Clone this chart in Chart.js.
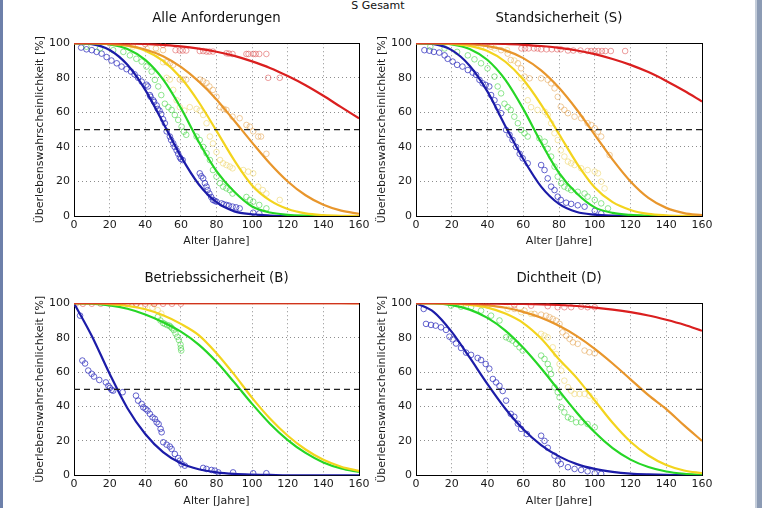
<!DOCTYPE html>
<html>
<head>
<meta charset="utf-8">
<script src="https://cdn.jsdelivr.net/npm/chart.js@4"></script>
<style>
  body { margin: 0; width: 762px; height: 508px; position: relative; background: #fff; overflow: hidden; font-family: "DejaVu Sans", sans-serif; }
  canvas { position: absolute; }
  #suptitle { position: absolute; top: 0; left: 0; width: 756px; text-align: center; font-size: 11px; line-height: 11px; color: #111; }
  #edgeL { position: absolute; left: 0; top: 0; width: 3px; height: 508px; background: #6d80aa; }
  #edgeR { position: absolute; left: 755px; top: 0; width: 7px; height: 508px; background: linear-gradient(to right, #c3ccd9 0px, #c3ccd9 2px, #8c9bb4 2px); }
</style>
</head>
<body>
<div id="edgeL"></div>
<div id="edgeR"></div>
<div id="suptitle">S Gesamt</div>
<canvas id="c1" width="381" height="254" style="left:0;top:0"></canvas>
<canvas id="c2" width="381" height="254" style="left:342px;top:0"></canvas>
<canvas id="c3" width="381" height="248" style="left:0;top:260px"></canvas>
<canvas id="c4" width="381" height="248" style="left:342px;top:260px"></canvas>
<script>
// ages of the fitted curves (years)
const ages = [0, 10, 20, 30, 40, 50, 60, 70, 80, 90, 100, 110, 120, 130, 140, 150, 160];
const halfLine = 50;

const titles = ["Alle Anforderungen", "Standsicherheit (S)", "Betriebssicherheit (B)", "Dichtheit (D)"];
const xLabel = "Alter [Jahre]";
const yLabel = "Überlebenswahrscheinlichkeit [%]";

// --- Alle Anforderungen ---
const allRed    = [100, 100, 100, 99.8, 99.6, 99.0, 98.2, 96.9, 95.1, 92.7, 89.5, 85.7, 81.0, 75.7, 69.6, 63.0, 56.5];
const allOrange = [100, 100, 99.7, 98.7, 96.4, 92.5, 86.3, 77.9, 67.5, 55.1, 42.5, 30.4, 20.0, 12.0, 6.5, 3.1, 1.3];
const allYellow = [100, 100, 99.7, 98.6, 95.7, 89.8, 80.0, 66.0, 49.3, 32.2, 17.7, 9.0, 4.0, 1.5, 0.5, 0.1, 0];
const allGreen  = [100, 99.9, 99.3, 96.7, 90.4, 79.1, 62.5, 43.0, 26.0, 14.0, 5.5, 2.0, 0.7, 0.2, 0, 0, 0];
const allBlue   = [100, 99.5, 96.1, 87.5, 73.0, 54.0, 34.5, 18.4, 8.0, 2.7, 1.0, 0.3, 0, 0, 0, 0, 0];

const allRedPts = [[20,100],[30,100],[40,99.5],[50,99],[57,96],[59.4,95.8],[61,95.8],[63,95.8],[70.6,95.5],[72.5,95.5],[74.4,95.2],[76,95.2],[78,95.2],[85.6,94.2],[87,94],[89,93.8],[96.8,93.8],[98,93.8],[100.6,93.8],[102,93.8],[104,93.8],[108,93.8],[109,80],[115.5,80]];
const allOrangePts = [[33,99],[46,97],[50,96],[52,89],[54,88.5],[55.7,87.5],[59.4,79],[61,79],[63,79],[70.6,79],[72.5,78],[74.4,77],[76,75],[78,73],[80,69],[82,63],[84,62],[85.6,61.4],[89,57.5],[93,56.6],[96.8,52.7],[98.7,51.7],[100.6,49],[103.4,46],[105,46],[108,36]];
const allYellowPts = [[33,98],[40.7,97],[46.4,94],[50,89],[52,80],[53.8,79],[55.7,73],[57.6,67],[59.4,63],[62,61],[65,63],[68.8,62],[70.6,61],[72.5,58.5],[74.4,53.7],[76.3,46],[78,42],[80,37],[82,32.4],[83.7,30.5],[85.6,29.5],[87.5,28.6],[89,27.6],[95,26.6],[97.8,25.7],[100.6,24.7],[103.4,17],[106,15],[108,13],[115.5,9.3]];
const allGreenPts = [[7,98],[14.6,97],[22,96],[27.7,95],[31.4,93],[35,91],[38,89.4],[40.7,86.5],[43.6,83.6],[45.4,78.8],[47.3,75],[49,70],[51,65],[53,63],[54.8,61.4],[56.6,58.5],[58.5,55.6],[60.4,51.7],[61.7,48.8],[63,47],[68.8,46],[70.6,44],[72.5,40],[74.4,36.3],[76.3,32.4],[78,26.6],[80,22.8],[81.9,19],[83.7,17],[85.6,16],[87.5,15],[89,13],[96.8,11],[98.7,9.3],[100.6,8.3],[104,6.4],[108,4.4]];
const allBluePts = [[4,97.5],[7,96.5],[10,96],[12.7,95],[15.5,94],[18.3,92],[21,90],[24,88.4],[26.7,86.5],[29.5,85],[32,83.6],[34,82],[36,80],[38,77.8],[40.7,76],[41.5,75],[42.6,70],[43,69],[44.5,67],[45,66],[46.4,64],[47,62],[48,61],[49,59],[50,56],[51,53.7],[52,49],[53.8,46],[54.5,44],[55.7,42],[56.5,40],[57.6,38],[58.5,36],[59.4,34],[60,33],[61,32.4],[70.6,24.7],[71.5,23],[72.5,21.8],[73.5,19],[74.4,17],[75,15],[76,13],[77,11],[78,9.3],[79,8.8],[80,8.3],[82.8,7.3],[84,6.8],[85.6,6.4],[87,6],[89,5.4],[91,5],[93,4.4],[100.6,1.9],[104,1.5]];

// --- Standsicherheit (S) ---
const sRed    = [100, 100, 100, 100, 99.8, 99.6, 99.1, 98.4, 97.3, 95.8, 93.7, 90.9, 87.5, 83.3, 78.2, 72.5, 66.3];
const sOrange = [100, 100, 99.9, 99.5, 98.3, 95.9, 91.4, 84.3, 74.2, 61.5, 47.0, 32.6, 20.0, 10.5, 4.7, 1.7, 0.5];
const sYellow = [100, 100, 99.7, 98.5, 95.5, 89.3, 79.0, 64.5, 47.5, 30.5, 16.5, 8.0, 3.5, 1.2, 0.4, 0.1, 0];
const sGreen  = [100, 99.9, 99.3, 96.7, 90.3, 78.8, 62.0, 42.5, 25.0, 13.0, 5.0, 1.8, 0.6, 0.2, 0, 0, 0];
const sBlue   = [100, 99.5, 96.0, 87.0, 72.0, 52.0, 33.0, 17.0, 7.0, 2.3, 0.8, 0.2, 0, 0, 0, 0, 0];

const sRedPts = [[59,97],[61,97],[63,97],[66,97],[68,97],[70,96.5],[73,96.5],[76,96.5],[79,96.5],[81,96.5],[85,95.8],[88,95.8],[92,95.8],[96,95.5],[98,95.5],[100,95.5],[102,95.5],[104,95.5],[106,95.5],[109,95.5],[117,95.5]];
const sOrangePts = [[42,98],[47.6,96],[51.3,94],[53,90.3],[57,88.4],[58.8,85.5],[60.7,80.7],[63.5,79.7],[70,79.7],[73.7,78.8],[75.6,76.8],[77.5,73.9],[79.3,69],[81,63.3],[83,61.4],[85,59.5],[88.7,57.5],[92.4,56.6],[96,53.7],[98,52.7],[100,50.8],[101.8,48.8],[103.6,46],[108.3,35.3]];
const sYellowPts = [[36.4,98],[44,97],[51,96],[55,90],[58.8,79.7],[60.7,75],[62.5,67],[64.4,63],[68,61.4],[72,60.4],[73.7,58.5],[75.6,53.7],[77.5,47.9],[79.3,44],[81,38],[83,34.4],[85,31.5],[86.8,30.5],[88.7,29.5],[92.4,27.6],[96,26.6],[100,25.7],[101.8,24.7],[103.6,19.9],[105.5,16]];
const sGreenPts = [[8,98],[16,97],[23,95],[29,93],[32.7,90.7],[36.4,88.4],[40,85.5],[43.9,80.7],[45.7,75],[47.6,71],[49.5,65],[51.3,63],[53,61.4],[55,57.5],[57,53.7],[58.8,49.8],[60.7,47.9],[62.5,46],[69,45],[72,43],[73.7,39],[75.6,34.4],[77.5,28.6],[79.3,22.8],[81.2,19],[83,17],[85,16],[86.8,15],[90.5,14],[94.3,13],[96,11.2],[100,9.3],[103.6,7.3],[107.4,4.4]];
const sBluePts = [[4.7,96],[7.5,95.7],[10,95],[13,94.6],[16,93],[17.7,91],[20.5,89.4],[23,87.5],[26,86.5],[29,84.5],[31.7,83],[33.6,81.7],[35.5,78.8],[37.3,76.8],[39,75.9],[41,75],[42,70],[43.9,67],[45.7,63],[47.6,59.5],[50.4,49.8],[52.3,47],[54,44],[56,40],[58,36],[59.7,33.4],[62.5,30.5],[70,29.5],[71.9,26.6],[73.7,21.8],[75.6,17],[77.5,15],[79.3,11.2],[81,9.3],[84,7.7],[86.8,7],[90.5,6.2],[94.3,5.4],[100,3],[103.6,1.5]];

// --- Betriebssicherheit (B) ---
const bRed    = [100, 100, 100, 100, 100, 100, 100, 100, 100, 100, 100, 100, 100, 100, 100, 100, 100];
const bOrange = [100, 100, 100, 100, 100, 100, 100, 100, 100, 100, 100, 100, 100, 100, 100, 100, 99.9];
const bYellow = [100, 100, 99.5, 98.5, 96.5, 93.0, 88.0, 81.5, 71.0, 58.5, 45.0, 33.0, 23.0, 15.0, 9.0, 5.0, 2.5];
const bGreen  = [100, 99.8, 98.8, 96.8, 93.5, 89.0, 83.5, 76.0, 66.0, 54.0, 41.5, 30.0, 20.5, 13.0, 7.5, 4.0, 2.0];
const bBlue   = [100, 81, 59, 39, 24, 13.5, 7.0, 3.5, 1.7, 0.8, 0.4, 0.2, 0, 0, 0, 0, 0];

const bRedPts = [[1,99.7],[5,99.7],[10,99.7],[15,99.7],[20,99.7],[25,99.7],[30,99.7],[35,99.7],[40,99.7],[45,99.7],[50,99.7],[55,99.7],[60,99.7]];
const bOrangePts = [[25,99.8],[35,99.6],[45,99.5]];
const bYellowPts = [[30,99.5],[35,99],[40,98.5],[44,97.5],[47,96],[49,94]];
const bGreenPts = [[47,92],[48.5,90],[50,88.5],[51,88],[52.3,87.3],[53.5,87],[54.2,86.3],[55,85.5],[56,84.4],[57,82.4],[58,80.5],[58.9,78.6],[59.8,76],[60,74],[60.2,72.5]];
const bBluePts = [[3.4,92.8],[4.7,66.7],[6.2,65],[8,60.9],[9.9,59],[11.2,57.4],[14.2,55.4],[17.9,54],[19.3,52],[20.2,50.8],[21.1,49.6],[22,49.2],[27.3,48.3],[34.8,46.3],[36,43.4],[38,41.5],[38.9,39.5],[40.2,38.6],[41.3,37.6],[42.6,35.7],[44.1,33.7],[45.4,32.8],[46.4,30.8],[47.5,29.8],[48.6,27],[49.2,25],[50.1,19.2],[52,17.8],[53.8,16.7],[54.8,15.3],[56.6,12.4],[58.5,10],[59.4,8.5],[60.4,6.6],[62.2,5.6],[72.5,4.3],[74.4,3.7],[77.2,3.1],[79,2.7],[81,1.7],[89.3,1.7],[100.6,1.2],[108,1.2]];

// --- Dichtheit (D) ---
const dRed    = [100, 100, 100, 99.9, 99.8, 99.7, 99.6, 99.4, 99.0, 98.4, 97.5, 96.3, 94.8, 92.9, 90.4, 87.5, 84.0];
const dOrange = [100, 100, 99.9, 99.6, 98.8, 97.4, 95.0, 91.6, 86.9, 80.9, 73.5, 65.0, 55.8, 46.6, 38.5, 29.0, 20.0];
const dYellow = [100, 100, 99.7, 99.0, 97.5, 94.0, 88.5, 79.5, 67.5, 56.5, 43.5, 30.5, 19.5, 11.5, 6.0, 2.8, 1.2];
const dGreen  = [100, 99.9, 98.9, 96.3, 91.5, 84.1, 74.1, 62.2, 49.2, 36.4, 25.0, 15.8, 9.1, 4.8, 2.2, 0.9, 0.3];
const dBlue   = [100, 94.9, 83.4, 68.5, 53.0, 38.7, 26.8, 17.6, 11.0, 6.5, 3.7, 2.0, 1.0, 0.5, 0.2, 0.1, 0];

const dRedPts = [[55,99],[64.4,98.6],[73.7,98.3],[79.3,97.7],[83,97.7],[86.8,97.7],[92.4,98],[96,97.7],[100,97.7]];
const dOrangePts = [[36.4,99.2],[55,96.7],[60.7,95.7],[66.3,93.8],[70,93.4],[72.8,92.8],[74.7,91.9],[76.5,90.9],[78.4,89.9],[80.3,88],[82,83.1],[84,81.2],[85.9,79.3],[87.8,77.3],[90.5,76.4],[94.3,72.5],[97,71.5],[100,70.9]];
const dYellowPts = [[27,99.6],[40,98.6],[51.3,96.7],[58.8,94.8],[64.4,93.8],[70,82.2],[71.9,81.2],[73.7,80.2],[76.5,74.4],[78.4,70.5],[80.3,64.7],[81.2,60.9],[83,55],[85,51.2],[86.8,49.2],[88.7,47.3],[91.5,47.3],[94.3,47.3],[97,46.3],[100,43.4]];
const dGreenPts = [[19.6,98.6],[25.2,98],[30.8,97.7],[36.4,95.7],[42,92.8],[46.7,90],[50.4,80.2],[52.3,79.3],[54,78.3],[56,76.4],[57.9,74.4],[59.7,72.5],[70,69.6],[71.9,67.6],[73.7,64.7],[74.7,61.8],[75.6,58.9],[77.5,51.2],[79.3,48.3],[80.3,45.3],[81.2,39.5],[83,36.6],[85,33.7],[86.8,32.8],[89.6,30.8],[92.4,30.8],[96,29.8],[100,27.9]];
const dBluePts = [[4.3,96.7],[5.6,88],[8.4,87.4],[11,87],[14,86],[16.8,84.5],[18.7,80.6],[20.5,79],[22.4,76.6],[25.2,74],[28,71.3],[30.8,70],[34.5,68.2],[36.4,67],[39,64.7],[41,62],[43,56],[44.8,54],[46.7,52],[48.5,49],[50.4,43.4],[53,35.7],[55,34],[57,30],[58.8,27],[62,24],[70,23],[71.9,20],[73.7,16],[77.5,11.4],[79.4,8.5],[81,6.6],[85,4.7],[88.7,3.7],[92.4,3.1],[96,2.3],[100,1.2],[103.6,0.8]];

const lineColors = { red: "#da1f1f", orange: "#e8962c", yellow: "#f3d41e", green: "#26d626", blue: "#1c1ca8" };
const dotColors = {
  red: "rgba(222,80,80,0.55)",
  orange: "rgba(230,168,90,0.6)",
  yellow: "rgba(238,214,110,0.6)",
  green: "rgba(70,214,70,0.6)",
  blue: "rgba(50,50,190,0.75)"
};
const order = ["red", "orange", "yellow", "green", "blue"];

Chart.defaults.font.family = "'DejaVu Sans', sans-serif";
Chart.defaults.color = "#1a1a1a";

// box round the plot area, drawn under the data
const framePlugin = {
  id: "frame",
  beforeDatasetsDraw(chart) {
    const { ctx, chartArea: a } = chart;
    ctx.save();
    ctx.strokeStyle = "#000";
    ctx.lineWidth = 1;
    const l = Math.round(a.left) + 0.5, t = Math.round(a.top) + 0.5;
    ctx.strokeRect(l, t, Math.round(a.right) - Math.round(a.left), Math.round(a.bottom) - Math.round(a.top));
    ctx.restore();
  }
};

// y axis title drawn by hand so it is not squeezed to the plot height
const yTitlePlugin = {
  id: "yTitle",
  afterDraw(chart, args, opts) {
    const { ctx, chartArea: a } = chart;
    ctx.save();
    ctx.translate(opts.x, (a.top + a.bottom) / 2);
    ctx.rotate(-Math.PI / 2);
    ctx.font = "11px 'DejaVu Sans'";
    ctx.fillStyle = "#1a1a1a";
    ctx.textAlign = "center";
    ctx.textBaseline = "middle";
    ctx.fillText(opts.text, 0, 0);
    ctx.restore();
  }
};

function toXY(vals) {
  return vals.map((v, i) => ({ x: ages[i], y: v }));
}

function makePanel(id, title, curves, points, xAxisHeight, xTitlePad, rightPad) {
  const datasets = [];
  datasets.push({
    data: [{ x: 0, y: halfLine }, { x: 160, y: halfLine }],
    showLine: true, borderColor: "#222", borderWidth: 1.3, borderDash: [6, 4],
    pointRadius: 0, order: 0
  });
  order.forEach((c, i) => {
    datasets.push({
      data: toXY(curves[c]),
      showLine: true, borderColor: lineColors[c], borderWidth: 2.2,
      cubicInterpolationMode: "monotone", pointRadius: 0, order: i + 1
    });
  });
  order.forEach((c, i) => {
    datasets.push({
      data: points[c].map(p => ({ x: p[0], y: p[1] })),
      borderColor: dotColors[c], backgroundColor: "rgba(0,0,0,0)",
      pointRadius: 2.8, borderWidth: 1, order: 10 + i
    });
  });

  new Chart(document.getElementById(id), {
    type: "scatter",
    data: { datasets },
    options: {
      responsive: false,
      animation: false,
      events: [],
      layout: { padding: { left: 0, right: rightPad, top: 0, bottom: 0 } },
      plugins: {
        legend: { display: false },
        tooltip: { enabled: false },
        title: {
          display: true, text: title, fullSize: false, color: "#111",
          font: { size: 13.3, weight: "normal" },
          padding: { top: 11, bottom: 16.3 }
        },
        yTitle: { text: yLabel, x: 40 }
      },
      scales: {
        x: {
          type: "linear", min: 0, max: 160,
          ticks: { stepSize: 20, padding: 2.2, maxRotation: 0, font: { size: 11 }, color: "#1a1a1a" },
          grid: { drawTicks: false, color: "rgba(0,0,0,0.45)" },
          border: { display: false, dash: [1, 3] },
          title: { display: true, text: xLabel, font: { size: 11 }, color: "#1a1a1a", padding: { top: 0, bottom: xTitlePad } },
          afterFit(s) { s.height = xAxisHeight; }
        },
        y: {
          min: 0, max: 100,
          ticks: { stepSize: 20, padding: 4, font: { size: 11 }, color: "#1a1a1a" },
          grid: { drawTicks: false, color: "rgba(0,0,0,0.45)" },
          border: { display: false, dash: [1, 3] },
          afterFit(s) { s.width = 74; }
        }
      }
    },
    plugins: [framePlugin, yTitlePlugin]
  });
}

makePanel("c1", titles[0],
  { red: allRed, orange: allOrange, yellow: allYellow, green: allGreen, blue: allBlue },
  { red: allRedPts, orange: allOrangePts, yellow: allYellowPts, green: allGreenPts, blue: allBluePts },
  38, 6.4, 22);
makePanel("c2", titles[1],
  { red: sRed, orange: sOrange, yellow: sYellow, green: sGreen, blue: sBlue },
  { red: sRedPts, orange: sOrangePts, yellow: sYellowPts, green: sGreenPts, blue: sBluePts },
  38, 6.4, 21);
makePanel("c3", titles[2],
  { red: bRed, orange: bOrange, yellow: bYellow, green: bGreen, blue: bBlue },
  { red: bRedPts, orange: bOrangePts, yellow: bYellowPts, green: bGreenPts, blue: bBluePts },
  32.7, 0.7, 22);
makePanel("c4", titles[3],
  { red: dRed, orange: dOrange, yellow: dYellow, green: dGreen, blue: dBlue },
  { red: dRedPts, orange: dOrangePts, yellow: dYellowPts, green: dGreenPts, blue: dBluePts },
  32.7, 0.7, 21);
</script>
</body>
</html>
